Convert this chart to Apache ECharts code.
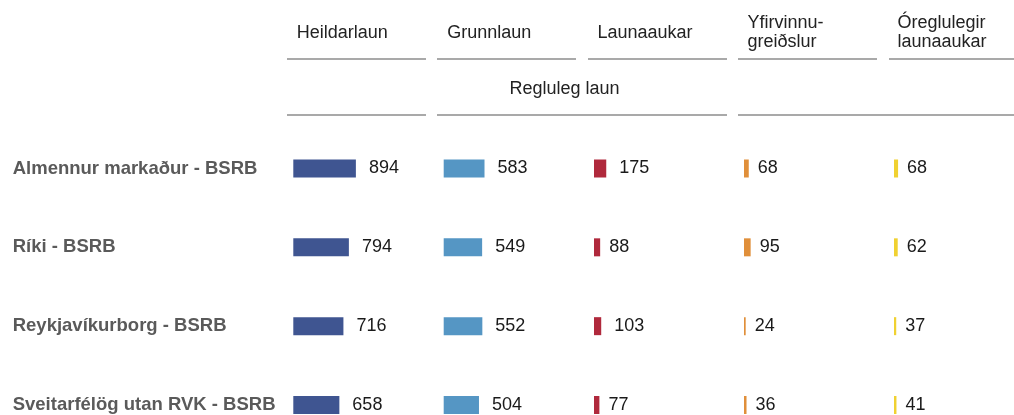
<!DOCTYPE html>
<html><head><meta charset="utf-8">
<script src="https://cdn.jsdelivr.net/npm/echarts@6/dist/echarts.min.js"></script>
<style>html,body{margin:0;padding:0;background:#fff}#c{width:1014px;height:415px}</style>
</head><body><div id="c"></div>
<script>
const categories = ['Almennur markaður - BSRB', 'Ríki - BSRB', 'Reykjavíkurborg - BSRB', 'Sveitarfélög utan RVK - BSRB'];
const heildarlaun = [894, 794, 716, 658];
const grunnlaun = [583, 549, 552, 504];
const launaaukar = [175, 88, 103, 77];
const yfirvinnugreidslur = [68, 95, 24, 36];
const oreglulegirLaunaaukar = [68, 62, 37, 41];
const columnTitles = ['Heildarlaun', 'Grunnlaun', 'Launaaukar', 'Yfirvinnu-\ngreiðslur', 'Óreglulegir\nlaunaaukar'];
const groupTitle = 'Regluleg laun';

const seriesData = [heildarlaun, grunnlaun, launaaukar, yfirvinnugreidslur, oreglulegirLaunaaukar];
const colors = ['#3f5591', '#5596c4', '#b0293c', '#e08f3a', '#f0d131'];
const barLefts = [293.3, 443.7, 594, 744, 894];
const lineX = [[287, 426], [437, 576], [588, 727], [738, 877], [889, 1014]];
const FONT = '"Liberation Sans", Arial, sans-serif';

const chart = echarts.init(document.getElementById('c'), null, {renderer: 'canvas'});
const grids = [], xAxes = [], yAxes = [], series = [];
seriesData.forEach((vals, i) => {
  grids.push({left: barLefts[i], top: 168.5, width: 140, height: 236.5, containLabel: false});
  xAxes.push({type: 'value', gridIndex: i, min: 0, max: 2000, show: false});
  yAxes.push({
    type: 'category', gridIndex: i, data: categories, inverse: true, boundaryGap: false,
    axisLine: {show: false}, axisTick: {show: false}, splitLine: {show: false},
    axisLabel: i === 0 ? {
      show: true, align: 'left', margin: 280.6, fontFamily: FONT, fontSize: 18.5,
      fontWeight: 'bold', color: '#5a5a5a'
    } : {show: false}
  });
  series.push({
    type: 'bar', xAxisIndex: i, yAxisIndex: i, barWidth: 18,
    itemStyle: {color: colors[i]},
    data: vals.map(v => ({value: v, label: {distance: String(v).length >= 3 ? 13 : 9}})),
    label: {show: true, position: 'right', fontFamily: FONT, fontSize: 18, color: '#1a1a1a'},
    silent: true, animation: false
  });
});

const graphic = [];
const lineStyle = {stroke: '#8c8c8c', lineWidth: 1.6};
lineX.forEach(([a, b]) => {
  graphic.push({type: 'line', shape: {x1: a, y1: 59, x2: b, y2: 59}, style: lineStyle, silent: true});
});
[[287, 426], [437, 727], [738, 1014]].forEach(([a, b]) => {
  graphic.push({type: 'line', shape: {x1: a, y1: 115, x2: b, y2: 115}, style: lineStyle, silent: true});
});
columnTitles.forEach((t, i) => {
  const twoLine = t.indexOf('\n') >= 0;
  graphic.push({
    type: 'text', left: barLefts[i] + 3.5, top: twoLine ? 14 : 24,
    style: {text: t, fontFamily: FONT, fontSize: 18, fill: '#222', lineHeight: 19}, silent: true
  });
});
graphic.push({
  type: 'text', left: 509.5, top: 80,
  style: {text: groupTitle, fontFamily: FONT, fontSize: 18, fill: '#222'}, silent: true
});

chart.setOption({
  animation: false,
  grid: grids, xAxis: xAxes, yAxis: yAxes, series: series, graphic: graphic
});
</script></body></html>
